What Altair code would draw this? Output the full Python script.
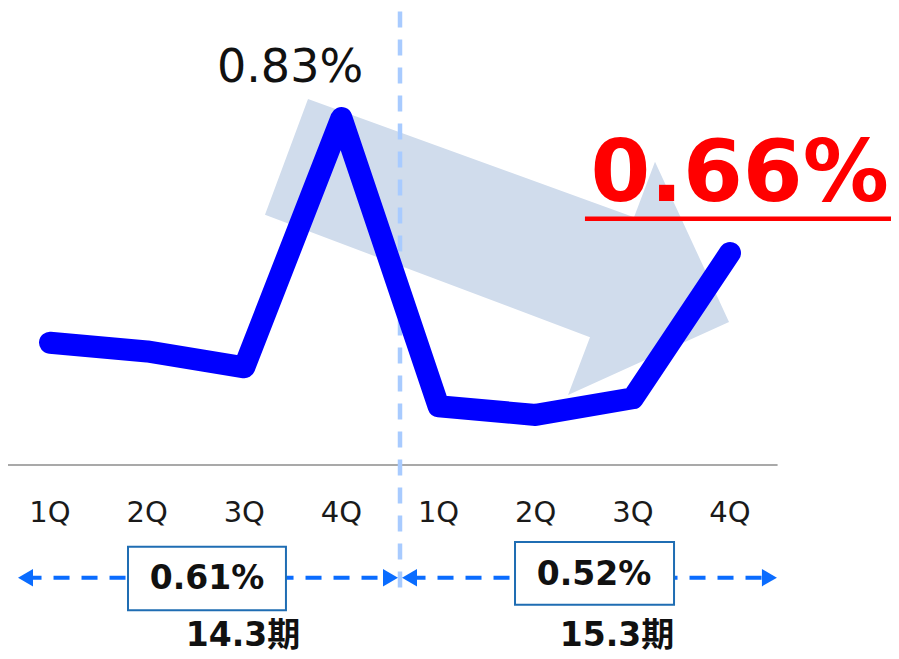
import altair as alt
import pandas as pd

# ---- data ----
quarters = ["1Q", "2Q", "3Q", "4Q", "1Q", "2Q", "3Q", "4Q"]
rates = [0.547, 0.536, 0.516, 0.83, 0.467, 0.456, 0.477, 0.66]
periods = ["14.3期", "15.3期"]
period_avgs = ["0.61%", "0.52%"]
peak_label = "0.83%"
latest_label = "0.66%"

# annotation geometry in data units (x = quarter index, y = rate)
arrow_x = [2.656, 6.012, 6.228, 6.990, 5.333, 5.559, 2.213, 2.656]
arrow_y = [0.854, 0.705, 0.775, 0.573, 0.481, 0.554, 0.708, 0.854]
baseline_y = 0.393
divider_x = 3.603

W, H = 883, 645
x_dom = [-0.4324, -0.4324 + W / 97.14]
y_top = 0.83 + 110 / 794
y_dom = [y_top - H / 794, y_top]

xs = alt.Scale(domain=x_dom, nice=False, zero=False)
ys = alt.Scale(domain=y_dom, nice=False, zero=False)


def X(f="x"):
    return alt.X(f"{f}:Q", scale=xs, axis=None)


def Y(f="y"):
    return alt.Y(f"{f}:Q", scale=ys, axis=None)


line_df = pd.DataFrame({"x": list(range(8)), "y": rates, "q": quarters})
arrow_df = pd.DataFrame({"x": arrow_x, "y": arrow_y, "o": list(range(len(arrow_x)))})

arrow = alt.Chart(arrow_df).mark_line(filled=True, fill="#D0DCEC", strokeWidth=0).encode(
    x=X(), y=Y(), order="o:O"
)

base_rule = alt.Chart(pd.DataFrame({"x": [-0.45], "x2": [7.49], "y": [baseline_y]})).mark_rule(
    color="#8c8c8c", strokeWidth=1.5
).encode(x=X(), x2="x2:Q", y=Y())

divider = alt.Chart(pd.DataFrame({"x": [divider_x], "y": [0.964], "y2": [0.232]})).mark_rule(
    color="#A8CBFF", strokeWidth=4.5, strokeDash=[16, 12]
).encode(x=X(), y=Y(), y2="y2:Q")

line = alt.Chart(line_df).mark_line(
    color="#0000FF", strokeWidth=22, strokeCap="round", strokeJoin="round"
).encode(x=X(), y=Y(), order="x:Q")

q_labels = alt.Chart(line_df.assign(ly=0.333)).mark_text(
    font="DejaVu Sans", fontSize=29, color="#1a1a1a", baseline="middle", align="center"
).encode(x=X(), y=Y("ly"), text="q:N")

peak = alt.Chart(pd.DataFrame({"x": [2.471], "y": [0.893], "t": [peak_label]})).mark_text(
    font="DejaVu Sans", fontSize=46, color="#111111", baseline="middle", align="center"
).encode(x=X(), y=Y(), text="t:N")

latest = alt.Chart(pd.DataFrame({"x": [7.10], "y": [0.758], "t": [latest_label]})).mark_text(
    font="DejaVu Sans", fontSize=86, fontWeight="bold", color="#FF0000", baseline="middle", align="center"
).encode(x=X(), y=Y(), text="t:N")

underline = alt.Chart(pd.DataFrame({"x": [5.507], "x2": [8.66], "y": [0.703]})).mark_rule(
    color="#FF0000", strokeWidth=4.5
).encode(x=X(), x2="x2:Q", y=Y())

# dashed period arrows
dash_df = pd.DataFrame({"x": [-0.252, 3.701], "x2": [3.505, 7.406], "y": [0.251, 0.251]})
dashes = alt.Chart(dash_df).mark_rule(color="#0A6CFF", strokeWidth=4, strokeDash=[16, 12]).encode(
    x=X(), x2="x2:Q", y=Y()
)
heads_df = pd.DataFrame({
    "x": [-0.252, 3.505, 3.701, 7.406],
    "y": [0.251] * 4,
    "s": ["triangle-left", "triangle-right", "triangle-left", "triangle-right"],
})
heads = alt.Chart(heads_df).mark_point(filled=True, color="#0A6CFF", size=300, opacity=1).encode(
    x=X(), y=Y(), shape=alt.Shape("s:N", scale=None)
)

box_df = pd.DataFrame({
    "x": [0.803, 4.787], "x2": [2.429, 6.424],
    "y": [0.290, 0.296], "y2": [0.210, 0.217],
    "tx": [1.616, 5.600], "ty": [0.249, 0.255],
    "t": period_avgs,
})
boxes = alt.Chart(box_df).mark_rect(fill="white", stroke="#1F6DB3", strokeWidth=2).encode(
    x=X(), x2="x2:Q", y=Y(), y2="y2:Q"
)
box_text = alt.Chart(box_df).mark_text(
    font="DejaVu Sans", fontSize=33, fontWeight="bold", color="#111111", baseline="middle", align="center"
).encode(x=X("tx"), y=Y("ty"), text="t:N")

period_df = pd.DataFrame({"x": [1.987, 5.837], "y": [0.177, 0.177], "t": periods})
period_text = alt.Chart(period_df).mark_text(
    font="DejaVu Sans, Noto Sans CJK JP", fontSize=33, fontWeight="bold", color="#111111",
    baseline="middle", align="center"
).encode(x=X(), y=Y(), text="t:N")

chart = alt.layer(
    arrow, base_rule, divider, line, q_labels, peak, latest, underline,
    dashes, heads, boxes, box_text, period_text
).properties(
    width=W, height=H, padding=0, autosize=alt.AutoSizeParams(type="none")
).configure_view(stroke=None)

chart.save("out.html", embed_options={"renderer": "svg", "actions": False})
